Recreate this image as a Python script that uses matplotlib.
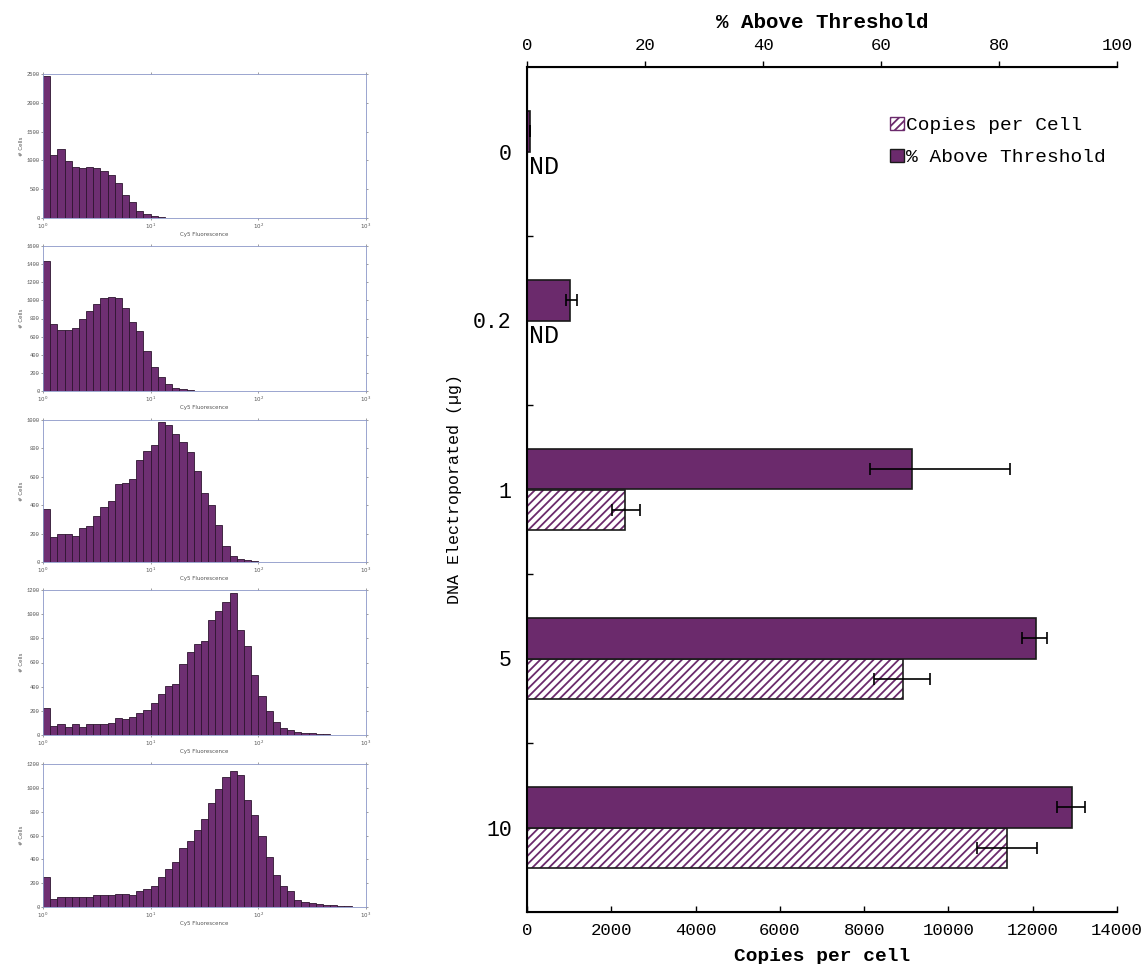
import matplotlib
matplotlib.use("Agg")
import matplotlib.pyplot as plt
import numpy as np
from matplotlib.patches import Patch

plt.rcParams['font.family'] = ['Liberation Mono', 'DejaVu Sans Mono']
plt.rcParams['hatch.linewidth'] = 1.3

# --- histogram data: counts per log bin, 15 bins per decade from 10^0 to 10^3 ---
hist_counts = [
    [2465, 1100, 1205, 985, 885, 875, 885, 870, 810, 755, 610, 395, 280, 120, 75,
     35, 15, 8, 3, 2, 3, 2, 5, 8, 3, 2, 2, 1, 2, 2,
     1, 3, 1, 1, 1, 2, 1, 1, 1, 2, 1, 0, 0, 0, 0],
    [1438, 734, 671, 671, 700, 789, 881, 958, 1029, 1040, 1021, 911, 763, 667, 446,
     265, 155, 81, 33, 18, 7, 4, 3, 3, 2, 2, 3, 2, 2, 3,
     2, 2, 3, 2, 2, 2, 2, 2, 2, 2, 2, 2, 2, 1, 1],
    [375, 176, 197, 197, 185, 239, 255, 321, 386, 431, 550, 553, 585, 719, 785,
     822, 984, 963, 904, 848, 773, 642, 485, 403, 262, 112, 44, 23, 12, 7,
     3, 2, 1, 1, 0, 0, 0, 0, 0, 0, 0, 0, 0, 0, 0],
    [221, 74, 91, 69, 94, 69, 91, 91, 91, 97, 138, 132, 152, 185, 207,
     262, 337, 408, 422, 585, 690, 750, 778, 952, 1029, 1103, 1172, 866, 737, 497,
     326, 199, 105, 61, 41, 28, 19, 14, 8, 5, 2, 1, 0, 0, 0],
    [248, 67, 84, 81, 81, 81, 84, 98, 98, 100, 112, 109, 98, 131, 153,
     179, 248, 321, 374, 491, 550, 647, 742, 876, 988, 1094, 1139, 1108, 899, 770,
     597, 416, 271, 173, 131, 61, 42, 33, 25, 20, 17, 11, 8, 0, 0],
]
hist_ymax = [2500, 1600, 1000, 1200, 1200]
hist_ystep = [500, 200, 200, 200, 200]

# --- main chart data ---
dna_ug = ["0", "0.2", "1", "5", "10"]
pct_above = [0.5, 7.3, 65.3, 86.3, 92.4]
pct_err_lo = [0, 0.7, 7.2, 2.4, 2.5]
pct_err_hi = [0, 1.2, 16.6, 1.9, 2.2]
copies = [np.nan, np.nan, 2330, 8920, 11390]
copies_err_lo = [0, 0, 310, 690, 710]
copies_err_hi = [0, 0, 350, 640, 710]
nd_rows = [0, 1]

purple = '#6b2a6c'
W, H = 1147, 964
fig = plt.figure(figsize=(W / 100, H / 100), dpi=100)

def fig_rect(l, t, r, b):
    return [l / W, 1 - b / H, (r - l) / W, (b - t) / H]

# histogram panels
panel_px = [(74, 218), (246, 391), (420, 562), (590, 735), (764, 907)]
edges = 10 ** (np.arange(46) / 15)
for counts, ymax, ystep, (top, bot) in zip(hist_counts, hist_ymax, hist_ystep, panel_px):
    hx = fig.add_axes(fig_rect(43, top, 366, bot))
    hx.bar(edges[:-1], counts, width=np.diff(edges), align='edge',
           color='#6e2f72', edgecolor='#2e1530', linewidth=0.6)
    hx.set_xscale('log')
    hx.set_xlim(1, 1000)
    hx.set_ylim(0, ymax)
    hx.set_yticks(np.arange(0, ymax + 1, ystep))
    hx.set_xticks([1, 10, 100, 1000])
    hx.set_xticklabels(['$10^0$', '$10^1$', '$10^2$', '$10^3$'])
    hx.minorticks_off()
    hx.tick_params(labelsize=4, length=1.5, width=0.4, colors='#555555', pad=1,
                   top=True, right=True)
    for s in hx.spines.values():
        s.set_color('#8a96c8')
        s.set_linestyle((0, (2, 1)))
        s.set_linewidth(0.6)
    hx.set_ylabel('# Cells', fontsize=4, color='#555555', labelpad=2, family='DejaVu Sans')
    hx.set_xlabel('Cy5 Fluorescence', fontsize=4, color='#555555', labelpad=1, family='DejaVu Sans')

# main bar chart
ax = fig.add_axes(fig_rect(527, 67, 1117, 912))
y = np.arange(len(dna_ug))
bh = 0.24

ax.barh(y + bh / 2, copies, height=bh, color='white', edgecolor=purple,
        hatch='////', linewidth=0)
ax.barh(y + bh / 2, copies, height=bh, fill=False, edgecolor='#1a1a1a', linewidth=1.2,
        xerr=[copies_err_lo, copies_err_hi], ecolor='black', capsize=4,
        error_kw=dict(elinewidth=1.2, capthick=1.2))
ax.set_xlim(0, 14000)
ax.set_xticks(np.arange(0, 14001, 2000))
ax.set_ylim(len(dna_ug) - 0.5, -0.5)
ax.set_yticks(y)
ax.set_yticklabels(dna_ug, fontsize=15.5)
ax.set_yticks(np.arange(0.5, len(dna_ug) - 0.5, 1), minor=True)
ax.tick_params(axis='y', which='major', length=0, pad=11)
ax.tick_params(axis='y', which='minor', length=4, direction='in', width=1)
ax.tick_params(axis='x', direction='in', length=4, width=1, labelsize=12.5, pad=8)
ax.set_xlabel('Copies per cell', fontsize=14, fontweight='bold', labelpad=7)
ax.set_ylabel('DNA Electroporated (µg)', fontsize=12, labelpad=8)
ax.spines['right'].set_visible(False)
for s in ['left', 'bottom']:
    ax.spines[s].set_linewidth(1.5)

ax2 = ax.twiny()
ax2.barh(y - bh / 2, pct_above, height=bh, color=purple, edgecolor='#1a1a1a', linewidth=1.2,
         xerr=[pct_err_lo, pct_err_hi], ecolor='black', capsize=4,
         error_kw=dict(elinewidth=1.2, capthick=1.2))
ax2.set_xlim(0, 100)
ax2.set_xticks(np.arange(0, 101, 20))
ax2.tick_params(axis='x', direction='out', length=4, width=1, labelsize=12.5, pad=6)
ax2.set_xlabel('% Above Threshold', fontsize=15, fontweight='bold', labelpad=7)
ax2.spines['right'].set_visible(False)
ax2.spines['top'].set_linewidth(1.5)

for r in nd_rows:
    ax.text(40, r + 0.09, 'ND', fontsize=18, va='center', ha='left')

handles = [Patch(facecolor='white', edgecolor=purple, hatch='////', label='Copies per Cell'),
           Patch(facecolor=purple, edgecolor='#1a1a1a', label='% Above Threshold')]
ax2.legend(handles=handles, loc='upper right', bbox_to_anchor=(1.0, 0.955), frameon=False,
           fontsize=14, handlelength=0.7, handleheight=0.7, handletextpad=0.1,
           labelspacing=0.75, borderaxespad=0.2)

fig.savefig('out.png', dpi=100)
